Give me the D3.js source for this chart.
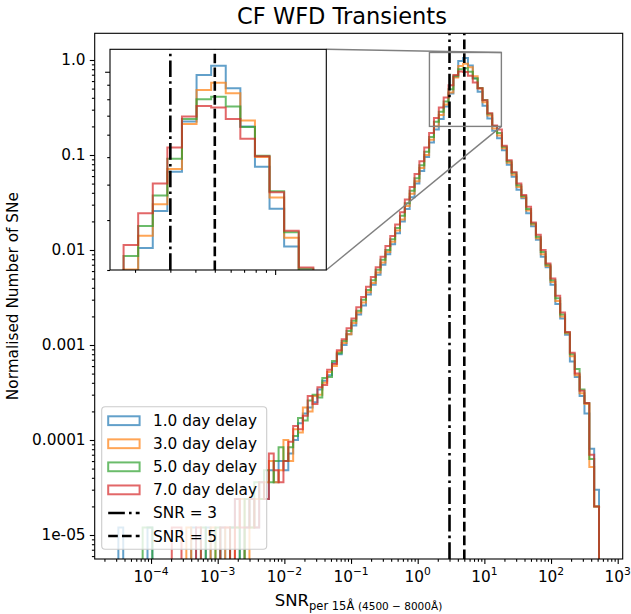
<!DOCTYPE html>
<html><head><meta charset="utf-8">
<script src="https://cdn.jsdelivr.net/npm/d3@7/dist/d3.min.js"></script>
<style>
body{margin:0;background:#fff}
svg{display:block}
text{font-family:"DejaVu Sans",sans-serif;fill:#000}
</style>
</head><body>
<svg id="chart" width="631" height="614"></svg>
<script>
// ---------------- DATA ----------------
const BIN_LOG_MIN = -4.49, BIN_LOG_MAX = 2.72, N_BINS = 99;   // log-spaced histogram bins
const seriesNames = ["1.0 day delay", "3.0 day delay", "5.0 day delay", "7.0 day delay"];
const seriesColors = ["#1f77b4", "#ff7f0e", "#2ca02c", "#d62728"];

const delay1 = [1.2e-5,0,0,0,0,0,1.2e-5,0,0,0, 0,0,0,0,0,1.2e-5,0,0,1.2e-5,0, 0,1.2e-5,0,1.2e-5,2.4e-5,0,1.2e-5,2.4e-5,1.2e-5,3.6e-5,
 2.4e-5,4.8e-5,3.6e-5,6.0e-5,4.8e-5,7.2e-5,
 1.0e-4,1.5e-4,1.9e-4,2.2e-4,2.5e-4,3.4e-4,4.2e-4,4.8e-4,6.5e-4,8.0e-4,1.0e-3,1.3e-3,1.6e-3,2.1e-3,2.6e-3,3.4e-3,4.3e-3,5.5e-3,7.0e-3,9.0e-3,1.15e-2,1.5e-2,2.0e-2,2.7e-2,3.6e-2,5.0e-2,6.8e-2,9.5e-2,0.135,
 0.185,0.239,0.323,0.444,0.668,0.974,1.05,0.874,0.641,0.462,0.329,0.242,0.18,
 0.15,0.112,0.079,0.059,0.043,0.035,0.0243,0.0178,0.0128,0.0085,0.0066,0.0043,0.0027,0.0019,0.00128,6.7e-4,4.6e-4,2.9e-4,1.9e-4,8.1e-5,3.0e-5];
const delay3 = [0,0,0,0,0,0,0,0,0,0, 0,0,0,0,1.2e-5,0,0,0,0,1.2e-5, 0,0,1.2e-5,0,1.2e-5,2.4e-5,0,1.2e-5,2.4e-5,2.4e-5,
 3.6e-5,6.0e-5,3.6e-5,4.8e-5,1.0e-4,6.0e-5,
 1.3e-4,1.2e-4,2.2e-4,2.0e-4,2.9e-4,3.0e-4,4.0e-4,5.2e-4,6.0e-4,8.5e-4,1.05e-3,1.3e-3,1.7e-3,2.2e-3,2.8e-3,3.6e-3,4.5e-3,5.8e-3,7.4e-3,9.5e-3,1.22e-2,1.6e-2,2.1e-2,2.9e-2,3.9e-2,5.3e-2,7.3e-2,0.10,0.145,
 0.201,0.264,0.341,0.454,0.654,0.863,0.915,0.840,0.673,0.501,0.360,0.260,0.19,
 0.16,0.118,0.083,0.062,0.046,0.036,0.026,0.0185,0.0133,0.0090,0.0068,0.0046,0.0029,0.0020,0.00133,7.6e-4,4.8e-4,3.1e-4,2.4e-4,5.2e-5,2.0e-5];
const delay5 = [0,0,0,0,0,1.2e-5,1.2e-5,0,0,0, 0,0,0,0,0,0,0,1.2e-5,0,0, 1.2e-5,0,0,1.2e-5,1.2e-5,0,2.4e-5,1.2e-5,3.6e-5,2.4e-5,
 4.8e-5,3.6e-5,6.0e-5,8.4e-5,6.0e-5,8.4e-5,
 1.1e-4,1.7e-4,1.6e-4,2.6e-4,3.0e-4,2.8e-4,4.5e-4,4.6e-4,6.8e-4,8.2e-4,1.1e-3,1.4e-3,1.8e-3,2.3e-3,3.0e-3,3.8e-3,4.8e-3,6.2e-3,7.9e-3,1.0e-2,1.3e-2,1.7e-2,2.3e-2,3.1e-2,4.2e-2,5.7e-2,7.8e-2,0.108,0.155,
 0.224,0.286,0.366,0.493,0.681,0.800,0.817,0.754,0.638,0.506,0.379,0.272,0.202,
 0.17,0.122,0.086,0.065,0.048,0.037,0.027,0.019,0.0138,0.0095,0.0070,0.0048,0.0031,0.0021,0.00135,8.0e-4,5.6e-4,3.4e-4,2.45e-4,6.3e-5,2.0e-5];
const delay7 = [0,0,0,0,0,0,0,0,0,0, 0,1.2e-5,1.2e-5,0,0,0,1.2e-5,0,0,0, 0,1.2e-5,1.2e-5,0,2.4e-5,1.2e-5,1.2e-5,2.4e-5,1.2e-5,3.6e-5,
 2.4e-5,7.2e-5,4.8e-5,3.6e-5,6.0e-5,9.6e-5,
 1.4e-4,1.3e-4,1.8e-4,2.9e-4,2.4e-4,3.6e-4,3.8e-4,5.5e-4,6.3e-4,8.8e-4,1.15e-3,1.5e-3,1.9e-3,2.5e-3,3.2e-3,4.1e-3,5.2e-3,6.6e-3,8.5e-3,1.1e-2,1.4e-2,1.85e-2,2.5e-2,3.4e-2,4.6e-2,6.3e-2,8.6e-2,0.12,0.17,
 0.245,0.317,0.404,0.541,0.695,0.758,0.748,0.681,0.581,0.504,0.376,0.275,0.204,
 0.185,0.125,0.088,0.066,0.050,0.038,0.0285,0.0195,0.0145,0.0100,0.0072,0.0050,0.0033,0.0022,0.00137,8.3e-4,5.0e-4,3.3e-4,2.45e-4,7.0e-5,2.0e-5];
const seriesValues = [delay1, delay3, delay5, delay7];

const snrValues = [3, 5];
const snrLabels = ["SNR = 3", "SNR = 5"];
const yTickValues = [1, 0.1, 0.01, 0.001, 0.0001, 0.00001];
const yTickLabels = ["1.0", "0.1", "0.01", "0.001", "0.0001", "1e-05"];
const xTickExponents = [-4, -3, -2, -1, 0, 1, 2, 3];
const insetXDomain = [1.5, 18];
const insetYDomain = [0.2, 1.2];
const titleText = "CF WFD Transients";
const yLabelText = "Normalised Number of SNe";

// ---------------- LAYOUT ----------------
const svg = d3.select("#chart");
const M = {l: 94.7, r: 622.7, t: 33.3, b: 559};
const I = {l: 110, r: 326.3, t: 49.3, b: 270};
const x = d3.scaleLog().domain([Math.pow(10, -4.845), Math.pow(10, 3.075)]).range([M.l, M.r]);
const y = d3.scaleLog().domain([Math.pow(10, -5.2526), Math.pow(10, 0.281)]).range([M.b, M.t]);
const xi = d3.scaleLog().domain(insetXDomain).range([I.l, I.r]);
const yi = d3.scaleLog().domain(insetYDomain).range([I.b, I.t]);

const edges = d3.range(N_BINS + 1).map(k => Math.pow(10, BIN_LOG_MIN + k * (BIN_LOG_MAX - BIN_LOG_MIN) / N_BINS));

const FS = 15.3;
const LW = 2.0, ALPHA = 0.7, VLW = 2.6;
const dashDot = [6.4*VLW, 1.6*VLW, 1*VLW, 1.6*VLW].join(",");
const dashed = [3.7*VLW, 1.6*VLW].join(",");

const defs = svg.append("defs");
defs.append("clipPath").attr("id", "clipMain").append("rect")
  .attr("x", M.l).attr("y", M.t).attr("width", M.r - M.l).attr("height", M.b - M.t);
defs.append("clipPath").attr("id", "clipInset").append("rect")
  .attr("x", I.l).attr("y", I.t).attr("width", I.r - I.l).attr("height", I.b - I.t);

function stepPts(vals, xs, ys, floor) {
  const Y = v => v > 0 ? ys(v) : floor;
  const pts = [[xs(edges[0]), floor]];
  vals.forEach((v, i) => { pts.push([xs(edges[i]), Y(v)]); pts.push([xs(edges[i + 1]), Y(v)]); });
  pts.push([xs(edges[N_BINS]), floor]);
  return pts;
}
function minorTicks(dom) {
  const out = [];
  for (let e = -6; e <= 4; e++) for (let k = 1; k <= 9; k++) {
    const v = k * Math.pow(10, e);
    if (v >= dom[0] * 0.9999 && v <= dom[1] * 1.0001) out.push({v, major: k === 1});
  }
  return out;
}

// ---------------- MAIN AXES ----------------
const gMain = svg.append("g");
gMain.append("rect").attr("x", M.l).attr("y", M.t).attr("width", M.r - M.l).attr("height", M.b - M.t).attr("fill", "#fff");
const gData = gMain.append("g").attr("clip-path", "url(#clipMain)");
seriesValues.forEach((vals, s) => {
  gData.append("path").attr("d", d3.line()(stepPts(vals, x, y, M.b + 50)))
    .attr("fill", "none").attr("stroke", seriesColors[s]).attr("stroke-opacity", ALPHA)
    .attr("stroke-width", LW).attr("stroke-linejoin", "miter");
});
snrValues.forEach((v, i) => {
  gData.append("line").attr("x1", x(v)).attr("x2", x(v)).attr("y1", M.b).attr("y2", M.t)
    .attr("stroke", "#000").attr("stroke-width", VLW).attr("stroke-dasharray", i === 0 ? dashDot : dashed);
});

// axes ticks
const xt = minorTicks(x.domain());
const gx = gMain.append("g").attr("transform", `translate(0,${M.b})`);
gx.call(d3.axisBottom(x).tickValues(xt.filter(t => t.major).map(t => t.v)).tickSize(4.9).tickSizeOuter(0).tickFormat(""));
gx.append("g").call(d3.axisBottom(x).tickValues(xt.filter(t => !t.major).map(t => t.v)).tickSize(2.8).tickSizeOuter(0).tickFormat(""));
const yt = minorTicks(y.domain());
const gy = gMain.append("g").attr("transform", `translate(${M.l},0)`);
gy.call(d3.axisLeft(y).tickValues(yTickValues).tickSize(4.9).tickSizeOuter(0).tickPadding(4.2)
  .tickFormat((d, i) => yTickLabels[i]));
gy.append("g").call(d3.axisLeft(y).tickValues(yt.filter(t => !t.major).map(t => t.v)).tickSize(2.8).tickSizeOuter(0).tickFormat(""));
svg.selectAll(".domain").remove();
svg.selectAll(".tick line").attr("stroke", "#000").attr("stroke-width", 1.1);
gy.selectAll("text").attr("font-size", FS).attr("font-family", "DejaVu Sans").attr("fill", "#000");

// x tick labels with superscripts
xTickExponents.forEach(e => {
  const t = gMain.append("text").attr("x", x(Math.pow(10, e))).attr("y", 581.5)
    .attr("text-anchor", "middle").attr("font-size", FS);
  t.append("tspan").text("10");
  t.append("tspan").attr("font-size", FS * 0.7).attr("dy", -6.5).text(e < 0 ? "\u2212" + (-e) : String(e));
});

// inset marker rectangle + connectors
const mk = {x0: x(insetXDomain[0]), x1: x(insetXDomain[1]), y0: y(insetYDomain[1]), y1: y(insetYDomain[0])};
gMain.append("rect").attr("x", mk.x0).attr("y", mk.y0).attr("width", mk.x1 - mk.x0).attr("height", mk.y1 - mk.y0)
  .attr("fill", "none").attr("stroke", "#808080").attr("stroke-width", 1.4);
gMain.append("line").attr("x1", I.r).attr("y1", I.t).attr("x2", mk.x1).attr("y2", mk.y0).attr("stroke", "#808080").attr("stroke-width", 1.4);
gMain.append("line").attr("x1", I.r).attr("y1", I.b).attr("x2", mk.x1).attr("y2", mk.y1).attr("stroke", "#808080").attr("stroke-width", 1.4);

// frame
gMain.append("rect").attr("x", M.l).attr("y", M.t).attr("width", M.r - M.l).attr("height", M.b - M.t)
  .attr("fill", "none").attr("stroke", "#000").attr("stroke-width", 1.1);

// ---------------- INSET ----------------
const gIn = svg.append("g");
gIn.append("rect").attr("x", I.l).attr("y", I.t).attr("width", I.r - I.l).attr("height", I.b - I.t).attr("fill", "#fff");
const gInData = gIn.append("g").attr("clip-path", "url(#clipInset)");
seriesValues.forEach((vals, s) => {
  gInData.append("path").attr("d", d3.line()(stepPts(vals, xi, yi, I.b + 50)))
    .attr("fill", "none").attr("stroke", seriesColors[s]).attr("stroke-opacity", ALPHA)
    .attr("stroke-width", LW);
});
snrValues.forEach((v, i) => {
  gInData.append("line").attr("x1", xi(v)).attr("x2", xi(v)).attr("y1", I.b).attr("y2", I.t)
    .attr("stroke", "#000").attr("stroke-width", VLW).attr("stroke-dasharray", i === 0 ? dashDot : dashed);
});
const xit = minorTicks(xi.domain());
gIn.append("g").attr("transform", `translate(0,${I.b})`)
  .call(d3.axisBottom(xi).tickValues(xit.map(t => t.v)).tickSizeOuter(0).tickFormat(""))
  .call(g => g.selectAll(".tick line").attr("y2", (d) => xit.find(t => t.v === d).major ? 4.9 : 2.8));
const yit = minorTicks(yi.domain());
gIn.append("g").attr("transform", `translate(${I.l},0)`)
  .call(d3.axisLeft(yi).tickValues(yit.map(t => t.v)).tickSizeOuter(0).tickFormat(""))
  .call(g => g.selectAll(".tick line").attr("x2", (d) => yit.find(t => t.v === d).major ? -4.9 : -2.8));
gIn.selectAll(".domain").remove();
gIn.selectAll(".tick line").attr("stroke", "#000").attr("stroke-width", 1.1);
gIn.append("rect").attr("x", I.l).attr("y", I.t).attr("width", I.r - I.l).attr("height", I.b - I.t)
  .attr("fill", "none").attr("stroke", "#000").attr("stroke-width", 1.1);

// ---------------- LEGEND ----------------
const L = {x: 101.7, y: 406.7, w: 165, h: 142.6};
const gL = svg.append("g");
gL.append("rect").attr("x", L.x).attr("y", L.y).attr("width", L.w).attr("height", L.h).attr("rx", 3.5)
  .attr("fill", "#fff").attr("fill-opacity", 0.8).attr("stroke", "#cccccc").attr("stroke-width", 1.1);
const rowY = i => 420.7 + i * 23.06;
seriesNames.forEach((n, i) => {
  gL.append("rect").attr("x", 108.2).attr("y", rowY(i) - 4.4).attr("width", 31.4).attr("height", 8.8)
    .attr("fill", "none").attr("stroke", seriesColors[i]).attr("stroke-opacity", ALPHA).attr("stroke-width", LW);
  gL.append("text").attr("x", 153).attr("y", rowY(i)).attr("dy", "0.36em").attr("font-size", FS).text(n);
});
snrLabels.forEach((n, j) => {
  const i = j + 4;
  gL.append("line").attr("x1", 108.2).attr("x2", 139.6).attr("y1", rowY(i)).attr("y2", rowY(i))
    .attr("stroke", "#000").attr("stroke-width", VLW).attr("stroke-dasharray", j === 0 ? dashDot : dashed);
  gL.append("text").attr("x", 153).attr("y", rowY(i)).attr("dy", "0.36em").attr("font-size", FS).text(n);
});

// ---------------- LABELS ----------------
svg.append("text").attr("x", 342).attr("y", 24).attr("text-anchor", "middle").attr("font-size", 22.5).text(titleText);
svg.append("text").attr("transform", `translate(18,${(M.t + M.b) / 2}) rotate(-90)`).attr("text-anchor", "middle")
  .attr("font-size", FS).text(yLabelText);
const xl = svg.append("text").attr("x", 358.5).attr("y", 606).attr("text-anchor", "middle").attr("font-size", 16.5);
xl.append("tspan").text("SNR");
xl.append("tspan").attr("dy", 3.5).attr("font-size", 11.5).text("per 15Å ");
xl.append("tspan").attr("font-size", 10.5).text("(4500 \u2212 8000Å)");
</script>
</body></html>
